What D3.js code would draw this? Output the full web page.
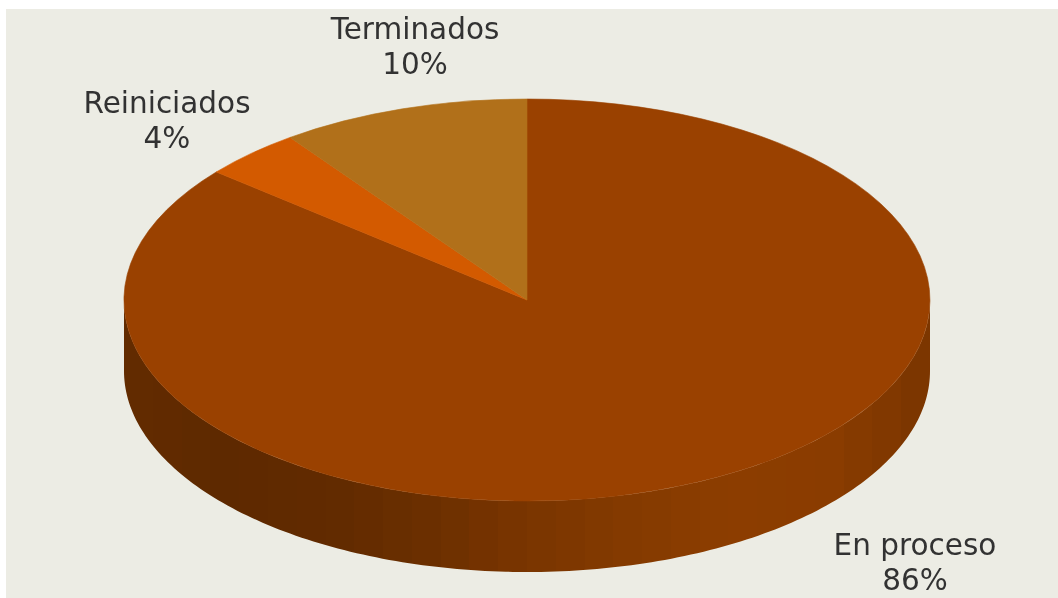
<!DOCTYPE html>
<html><head><meta charset="utf-8">
<script src="https://cdn.jsdelivr.net/npm/d3@7/dist/d3.min.js"></script>
<style>html,body{margin:0;padding:0;background:#fff}svg{display:block}</style>
</head><body><div id="c"></div>
<script>
const categories = ["En proceso", "Reiniciados", "Terminados"];
const values = [86, 4, 10];
const colors = ["#9A4100", "#D35A00", "#B1701A"];
const sideShades = ["#632B00","#5E2900","#612A00","#6B2F00","#7A3500","#843A00","#8C3D00","#8A3C00","#7A3500"];

const W = 1058, H = 598;
const cx = 527, cy = 300, rx = 403, ry = 201, depth = 71;
const svg = d3.select("#c").append("svg").attr("width", W).attr("height", H);
const defs = svg.append("defs");
defs.append("filter").attr("id","soft").append("feGaussianBlur").attr("stdDeviation",0.6);

svg.append("rect").attr("x",6).attr("y",9).attr("width",W-6).attr("height",H-9).attr("fill","#ECECE4");

const xs = d3.scaleLinear().domain([-1,1]).range([cx-rx,cx+rx]);
const ys = d3.scaleLinear().domain([-1,1]).range([cy-ry,cy+ry]);

const pie = d3.pie().sort(null).value(d=>d.v);
const arcs = pie(categories.map((c,i)=>({c,v:values[i],col:colors[i]})));

// side wall shading: faint vertical bands with hard edges
const shade = d3.piecewise(d3.interpolateRgb, sideShades);
const bands = 28;
const grad = defs.append("linearGradient").attr("id","side")
  .attr("gradientUnits","userSpaceOnUse").attr("x1",xs(-1)).attr("x2",xs(1)).attr("y1",0).attr("y2",0);
d3.range(bands).forEach(i=>{
  const c = shade((i+0.5)/bands);
  grad.append("stop").attr("offset",i/bands).attr("stop-color",c);
  grad.append("stop").attr("offset",(i+1)/bands).attr("stop-color",c);
});

const g = svg.append("g");
const sideAngles = d3.range(90,270.5,1).map(a=>a*Math.PI/180);
const side = d3.area()
  .x(a=>xs(Math.sin(a)))
  .y0(a=>ys(-Math.cos(a)))
  .y1(a=>ys(-Math.cos(a))+depth);
g.append("path").attr("d",side(sideAngles)).attr("fill","url(#side)");

const unit = d3.arc().innerRadius(0).outerRadius(1);
g.append("g").attr("transform",`translate(${xs(0)},${ys(0)}) scale(${rx},${ry})`)
  .selectAll("path").data(arcs).join("path")
  .attr("d",unit).attr("fill",d=>d.data.col)
  .attr("stroke",d=>d.data.col).attr("stroke-width",0.6).attr("vector-effect","non-scaling-stroke");

// label baselines, per category
const labelAt = {"En proceso":[915,554.5],"Reiniciados":[167,113],"Terminados":[415,38.5]};
const t = svg.append("g").attr("font-family","'DejaVu Sans',Verdana,sans-serif")
  .attr("font-size",29.5).attr("fill","#333").attr("text-anchor","middle").attr("filter","url(#soft)");
arcs.forEach(d=>{
  const [x,y]=labelAt[d.data.c];
  t.append("text").attr("x",x).attr("y",y).text(d.data.c);
  t.append("text").attr("x",x).attr("y",y+35).text(d.data.v+"%");
});
</script></body></html>
